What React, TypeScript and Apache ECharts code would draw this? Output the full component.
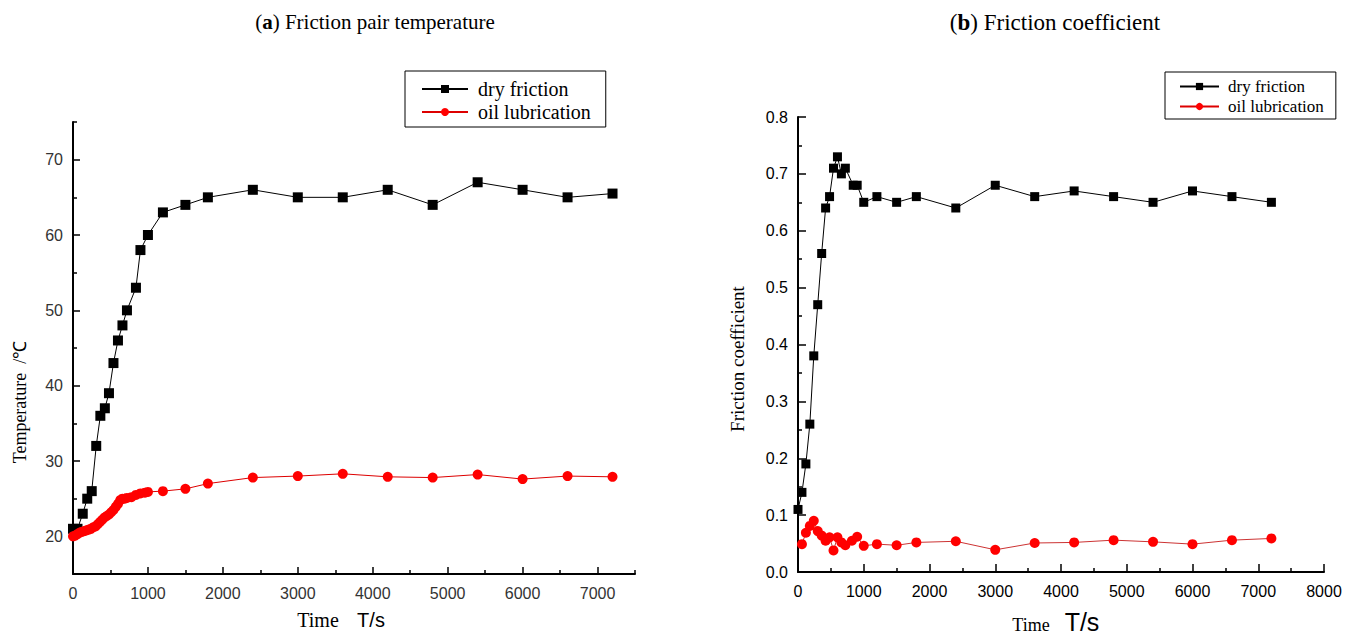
import React, { useEffect, useRef } from "react";
import * as echarts from "echarts";

// ---------- Chart (a): Friction pair temperature ----------
const timeDryA = [0, 60, 130, 190, 250, 310, 365, 425, 480, 540, 600, 660, 720, 840, 900, 1000, 1200, 1500, 1800, 2400, 3000, 3600, 4200, 4800, 5400, 6000, 6600, 7200];
const tempDryA = [21, 21, 23, 25, 26, 32, 36, 37, 39, 43, 46, 48, 50, 53, 58, 60, 63, 64, 65, 66, 65, 65, 66, 64, 67, 66, 65, 65.5];

const timeOilA = [0, 30, 60, 90, 120, 150, 180, 210, 240, 270, 300, 330, 360, 390, 420, 450, 480, 510, 540, 570, 600, 630, 660, 690, 720, 780, 840, 900, 960, 1000, 1200, 1500, 1800, 2400, 3000, 3600, 4200, 4800, 5400, 6000, 6600, 7200];
const tempOilA = [20.0, 20.1, 20.3, 20.5, 20.6, 20.7, 20.8, 20.9, 21.0, 21.2, 21.3, 21.6, 21.9, 22.2, 22.5, 22.7, 22.9, 23.2, 23.5, 23.9, 24.3, 24.8, 25.0, 25.0, 25.1, 25.2, 25.5, 25.7, 25.8, 25.9, 26.0, 26.3, 27.0, 27.8, 28.0, 28.3, 27.9, 27.8, 28.2, 27.6, 28.0, 27.9];

const xLabelsA = [0, 1000, 2000, 3000, 4000, 5000, 6000, 7000];
const xMinorA = [500, 1500, 2500, 3500, 4500, 5500, 6500, 7500];
const yLabelsA = [20, 30, 40, 50, 60, 70];
const yMinorA = [25, 35, 45, 55, 65, 75];

// ---------- Chart (b): Friction coefficient ----------
const timeDryB = [0, 60, 120, 180, 240, 300, 360, 420, 480, 540, 600, 660, 720, 840, 900, 1000, 1200, 1500, 1800, 2400, 3000, 3600, 4200, 4800, 5400, 6000, 6600, 7200];
const coefDryB = [0.11, 0.14, 0.19, 0.26, 0.38, 0.47, 0.56, 0.64, 0.66, 0.71, 0.73, 0.70, 0.71, 0.68, 0.68, 0.65, 0.66, 0.65, 0.66, 0.64, 0.68, 0.66, 0.67, 0.66, 0.65, 0.67, 0.66, 0.65];

const timeOilB = [60, 120, 180, 240, 300, 360, 420, 480, 540, 600, 660, 720, 820, 900, 1000, 1200, 1500, 1800, 2400, 3000, 3600, 4200, 4800, 5400, 6000, 6600, 7200];
const coefOilB = [0.049, 0.069, 0.081, 0.090, 0.072, 0.064, 0.055, 0.061, 0.038, 0.061, 0.052, 0.047, 0.055, 0.062, 0.046, 0.049, 0.047, 0.052, 0.054, 0.039, 0.051, 0.052, 0.056, 0.053, 0.049, 0.056, 0.059];

const xLabelsB = [0, 1000, 2000, 3000, 4000, 5000, 6000, 7000, 8000];
const xMinorB = [500, 1500, 2500, 3500, 4500, 5500, 6500, 7500];
const yLabelsB = [0, 0.1, 0.2, 0.3, 0.4, 0.5, 0.6, 0.7, 0.8];
const yMinorB = [0.05, 0.15, 0.25, 0.35, 0.45, 0.55, 0.65, 0.75];

const SERIF = '"Liberation Serif", "Times New Roman", serif';
const SANS = '"Liberation Sans", Arial, sans-serif';

const pairs = (t: number[], v: number[]) => t.map((x, i) => [x, v[i]]);

export default function App() {
  const ref = useRef<HTMLDivElement>(null);
  useEffect(() => {
    const chart = echarts.init(ref.current!, null, { renderer: "svg" });
    const axisLine = { show: true, onZero: false, lineStyle: { color: "#000", width: 2 } };
    const tickStyle = { color: "#000", width: 1.5 };
    const mainAxis = (extra: any) => ({
      type: "value",
      axisLine,
      splitLine: { show: false },
      ...extra,
    });
    const minorAxis = (extra: any) => ({
      type: "value",
      axisLine: { show: false },
      axisLabel: { show: false },
      splitLine: { show: false },
      ...extra,
    });
    const plain = (v: number) => String(v);

    const option: any = {
      animation: false,
      backgroundColor: "#fff",
      grid: [
        { left: 73, top: 122, width: 562, height: 452, outerBoundsMode: "none", containLabel: false },
        { left: 798, top: 117, width: 526, height: 455, outerBoundsMode: "none", containLabel: false },
      ],
      xAxis: [
        mainAxis({
          gridIndex: 0, position: "bottom", min: 0, max: 7500,
          axisTick: { show: true, inside: true, length: 7, lineStyle: tickStyle, customValues: xLabelsA },
          axisLabel: { customValues: xLabelsA, formatter: plain, color: "#333", fontFamily: SANS, fontSize: 16, margin: 11 },
        }),
        minorAxis({
          gridIndex: 0, position: "bottom", min: 0, max: 7500,
          axisTick: { show: true, inside: true, length: 4, lineStyle: tickStyle, customValues: xMinorA },
        }),
        mainAxis({
          gridIndex: 1, position: "bottom", min: 0, max: 8000,
          axisTick: { show: true, inside: true, length: 8, lineStyle: tickStyle, customValues: xLabelsB },
          axisLabel: { customValues: xLabelsB, formatter: plain, color: "#000", fontFamily: SANS, fontSize: 16, margin: 11 },
        }),
        minorAxis({
          gridIndex: 1, position: "bottom", min: 0, max: 8000,
          axisTick: { show: true, inside: true, length: 4, lineStyle: tickStyle, customValues: xMinorB },
        }),
      ],
      yAxis: [
        mainAxis({
          gridIndex: 0, position: "left", min: 15, max: 75,
          axisTick: { show: true, inside: true, length: 7, lineStyle: tickStyle, customValues: yLabelsA },
          axisLabel: { customValues: yLabelsA, formatter: plain, color: "#333", fontFamily: SANS, fontSize: 16, margin: 10 },
        }),
        minorAxis({
          gridIndex: 0, position: "left", min: 15, max: 75,
          axisTick: { show: true, inside: true, length: 4, lineStyle: tickStyle, customValues: yMinorA },
        }),
        mainAxis({
          gridIndex: 1, position: "left", min: 0, max: 0.8,
          axisTick: { show: true, inside: true, length: 8, lineStyle: tickStyle, customValues: yLabelsB },
          axisLabel: {
            customValues: yLabelsB, color: "#000", fontFamily: SANS, fontSize: 16, margin: 10,
            formatter: (v: number) => v.toFixed(1),
          },
        }),
        minorAxis({
          gridIndex: 1, position: "left", min: 0, max: 0.8,
          axisTick: { show: true, inside: true, length: 4, lineStyle: tickStyle, customValues: yMinorB },
        }),
      ],
      legend: [
        {
          left: 405, top: 71, orient: "vertical",
          data: ["dry friction", "oil lubrication"],
          borderColor: "#000", borderWidth: 1, borderRadius: 0, backgroundColor: "#fff",
          padding: [8, 15, 5, 16], itemWidth: 46, itemHeight: 10, itemGap: 3,
          textStyle: { fontFamily: SERIF, fontSize: 20, color: "#000", padding: [0, 0, 0, 5] },
          selectedMode: false,
        },
        {
          left: 1165, top: 72, orient: "vertical",
          data: ["dry friction", "oil lubrication"],
          borderColor: "#000", borderWidth: 1, borderRadius: 0, backgroundColor: "#fff",
          padding: [6, 12, 4, 14], itemWidth: 39, itemHeight: 9, itemGap: 3,
          textStyle: { fontFamily: SERIF, fontSize: 17, color: "#000", padding: [0, 0, 0, 4] },
          selectedMode: false,
        },
      ],
      graphic: [
        {
          type: "text", x: 375, y: 22,
          style: {
            text: "({b|a}) Friction pair temperature",
            font: `21px ${SERIF}`, fill: "#000", align: "center", verticalAlign: "middle",
            rich: { b: { fontWeight: "bold", fontFamily: SERIF, fontSize: 21, fill: "#000" } },
          },
        },
        {
          type: "text", x: 1055, y: 22,
          style: {
            text: "({b|b}) Friction coefficient",
            font: `23px ${SERIF}`, fill: "#000", align: "center", verticalAlign: "middle",
            rich: { b: { fontWeight: "bold", fontFamily: SERIF, fontSize: 23, fill: "#000" } },
          },
        },
        {
          type: "text", x: 20, y: 402, rotation: Math.PI / 2,
          style: {
            text: "Temperature  /\u2103", font: `18px ${SERIF}`, fill: "#000",
            align: "center", verticalAlign: "middle",
          },
        },
        {
          type: "text", x: 737, y: 359, rotation: Math.PI / 2,
          style: {
            text: "Friction coefficient", font: `19px ${SERIF}`, fill: "#000",
            align: "center", verticalAlign: "middle",
          },
        },
        {
          type: "text", x: 318, y: 620,
          style: { text: "Time", font: `20px ${SERIF}`, fill: "#000", align: "center", verticalAlign: "middle" },
        },
        {
          type: "text", x: 371, y: 620,
          style: { text: "T/s", font: `20px ${SANS}`, fill: "#000", align: "center", verticalAlign: "middle" },
        },
        {
          type: "text", x: 1031, y: 625,
          style: { text: "Time", font: `18px ${SERIF}`, fill: "#000", align: "center", verticalAlign: "middle" },
        },
        {
          type: "text", x: 1082, y: 622,
          style: { text: "T/s", font: `25px ${SANS}`, fill: "#000", align: "center", verticalAlign: "middle" },
        },
      ],
      series: [
        {
          type: "line", name: "dry friction", xAxisIndex: 0, yAxisIndex: 0,
          data: pairs(timeDryA, tempDryA), symbol: "rect", symbolSize: 10, showAllSymbol: true,
          itemStyle: { color: "#000" }, lineStyle: { color: "#000", width: 1 },
        },
        {
          type: "line", name: "oil lubrication", xAxisIndex: 0, yAxisIndex: 0,
          data: pairs(timeOilA, tempOilA), symbol: "circle", symbolSize: 10, showAllSymbol: true,
          itemStyle: { color: "#f00" }, lineStyle: { color: "#d00", width: 1 },
        },
        {
          type: "line", name: "dry friction", xAxisIndex: 2, yAxisIndex: 2,
          data: pairs(timeDryB, coefDryB), symbol: "rect", symbolSize: 9, showAllSymbol: true,
          itemStyle: { color: "#000" }, lineStyle: { color: "#000", width: 1 },
        },
        {
          type: "line", name: "oil lubrication", xAxisIndex: 2, yAxisIndex: 2,
          data: pairs(timeOilB, coefOilB), symbol: "circle", symbolSize: 10, showAllSymbol: true,
          itemStyle: { color: "#f00" }, lineStyle: { color: "#c33", width: 1 },
        },
      ],
    };
    chart.setOption(option);
    return () => chart.dispose();
  }, []);
  return (
    <div
      ref={ref}
      style={{ position: "absolute", left: 0, top: 0, width: 1358, height: 635, background: "#fff" }}
    />
  );
}
